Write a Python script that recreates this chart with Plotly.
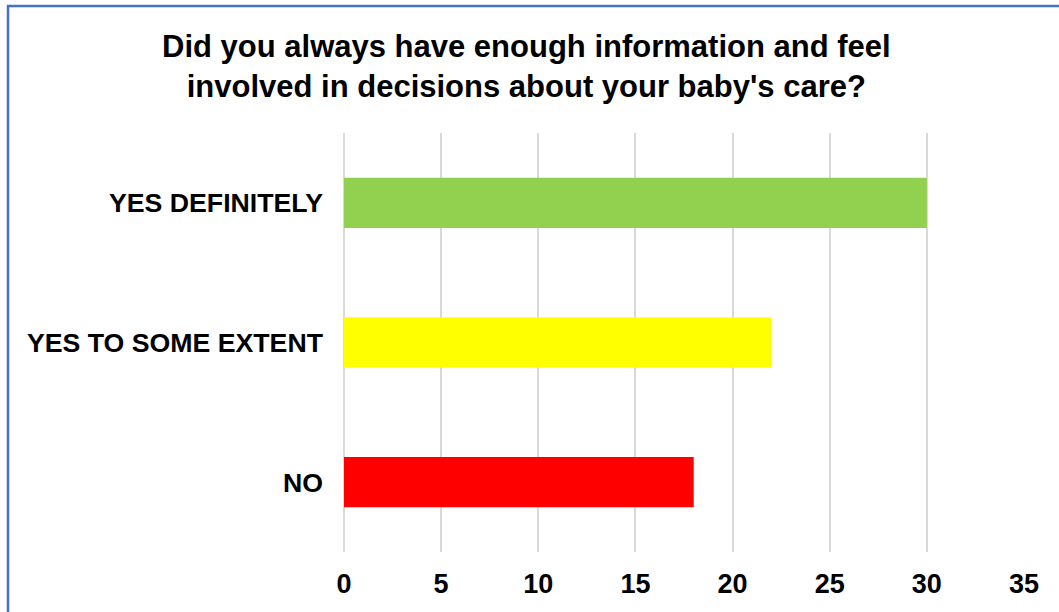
import plotly.graph_objects as go

# Survey responses
categories = ["YES DEFINITELY", "YES TO SOME EXTENT", "NO"]
counts = [30, 22, 18]
bar_colors = ["#92D050", "#FFFF00", "#FF0000"]
x_ticks = [0, 5, 10, 15, 20, 25, 30, 35]

title_text = ("Did you always have enough information and feel<br>"
              "involved in decisions about your baby's care?")

FONT = "Liberation Sans, Arial, sans-serif"

fig = go.Figure(
    go.Bar(
        x=counts,
        y=categories,
        orientation="h",
        marker=dict(color=bar_colors, line=dict(width=0)),
        width=0.36,
        hoverinfo="x+y",
    )
)

W, H = 1059, 612
L, R, T, B = 344, 35, 133, 60
pw, ph = W - L - R, H - T - B

fig.update_layout(
    width=W,
    height=H,
    margin=dict(l=L, r=R, t=T, b=B, pad=0),
    paper_bgcolor="white",
    plot_bgcolor="white",
    showlegend=False,
    title=dict(
        text=title_text,
        x=0.497,
        xanchor="center",
        y=1 - 57 / H,
        yanchor="top",
        font=dict(family=FONT, size=31, color="black", weight="bold"),
    ),
    xaxis=dict(
        range=[0, 35],
        tickvals=x_ticks,
        ticktext=[str(v) for v in x_ticks],
        showgrid=True,
        gridcolor="#D9D9D9",
        gridwidth=1.5,
        zeroline=True,
        zerolinecolor="#D9D9D9",
        zerolinewidth=1.5,
        showline=False,
        ticks="",
        ticklabelstandoff=13,
        tickfont=dict(family=FONT, size=27, color="black", weight="bold"),
        fixedrange=True,
    ),
    yaxis=dict(
        categoryorder="array",
        categoryarray=categories[::-1],
        showgrid=False,
        zeroline=False,
        showline=False,
        ticks="",
        ticklabelstandoff=20,
        tickfont=dict(family=FONT, size=26.7, color="black", weight="bold"),
        fixedrange=True,
    ),
    shapes=[
        # outer frame around the chart area
        dict(
            type="rect",
            xref="paper",
            yref="paper",
            x0=(8 - L) / pw,
            x1=(W + 20 - L) / pw,
            y0=-(B + 20) / ph,
            y1=1 + (T - 6) / ph,
            line=dict(color="#4472C4", width=2.5),
            fillcolor="rgba(0,0,0,0)",
            layer="above",
        )
    ],
)

fig.write_html("out.html")
